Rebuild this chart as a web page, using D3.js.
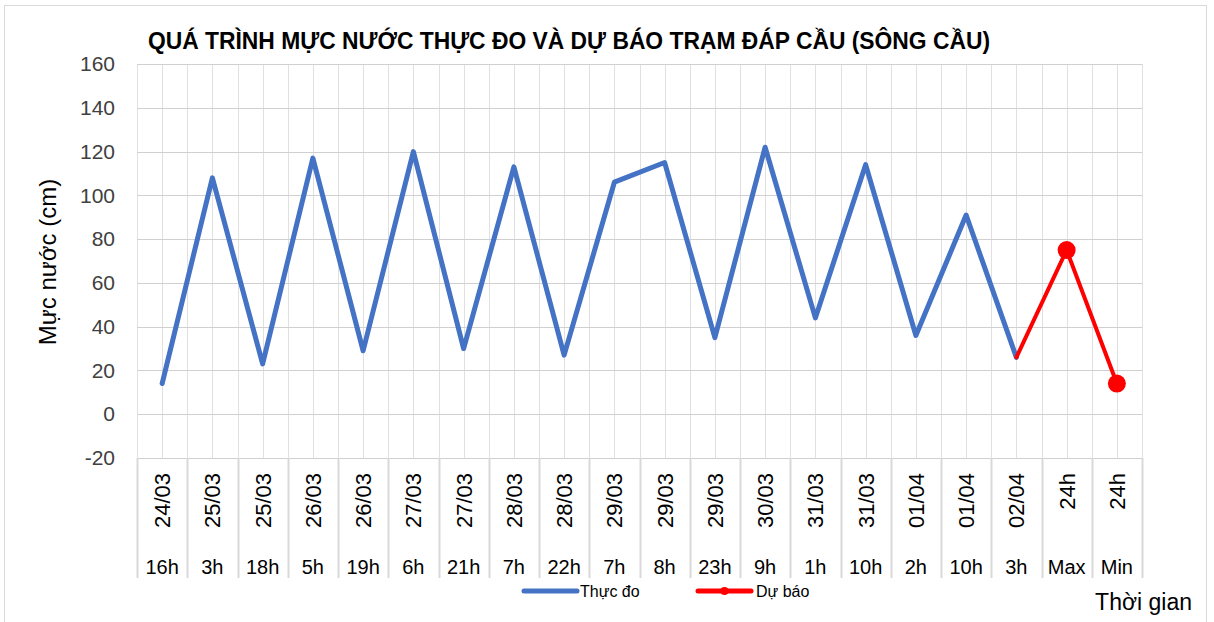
<!DOCTYPE html>
<html>
<head>
<meta charset="utf-8">
<script src="https://cdn.jsdelivr.net/npm/d3@7"></script>
<style>
  html, body { margin: 0; padding: 0; background: #fff; }
  svg { display: block; font-family: "Liberation Sans", Arial, sans-serif; }
</style>
</head>
<body>
<svg id="chart" width="1214" height="622"></svg>
<script>
// category labels (two levels)
const dateLabels = ["24/03","25/03","25/03","26/03","26/03","27/03","27/03","28/03","28/03","29/03",
                    "29/03","29/03","30/03","31/03","31/03","01/04","01/04","02/04","24h","24h"];
const hourLabels = ["16h","3h","18h","5h","19h","6h","21h","7h","22h","7h",
                    "8h","23h","9h","1h","10h","2h","10h","3h","Max","Min"];

// measured water level (cm), first 18 categories
const thucDo = [14, 108, 23, 117, 29, 120, 30, 113, 27, 106, 115, 35, 122, 44, 114, 36, 91, 26];
// forecast: starts at the last measured point, then Max / Min
const duBaoIdx = [17, 18, 19];
const duBao = [26, 75, 14];

const yTicks = [-20, 0, 20, 40, 60, 80, 100, 120, 140, 160];

const svg = d3.select("#chart");

// outer frame
svg.append("rect")
    .attr("x", 4.5).attr("y", 5.5)
    .attr("width", 1202).attr("height", 630)
    .attr("fill", "none").attr("stroke", "#d9d9d9").attr("stroke-width", 1);

const plotLeft = 137, plotRight = 1142, plotTop = 64, plotBottom = 458;

const x = d3.scaleBand()
    .domain(d3.range(dateLabels.length))
    .range([plotLeft, plotRight])
    .paddingInner(0).paddingOuter(0);
const bw = x.bandwidth();
const cx = i => x(i) + bw / 2;

const y = d3.scaleLinear().domain([-20, 160]).range([plotBottom, plotTop]);

// vertical gridlines: band edges and centres
const vPos = [];
d3.range(dateLabels.length).forEach(i => { vPos.push(x(i)); vPos.push(cx(i)); });
vPos.push(plotRight);
svg.append("g").selectAll("line").data(vPos).join("line")
    .attr("x1", d => Math.round(d) + 0.5).attr("x2", d => Math.round(d) + 0.5)
    .attr("y1", plotTop).attr("y2", plotBottom)
    .attr("stroke", "#e0e0e0").attr("stroke-width", 1);

// horizontal gridlines
svg.append("g").selectAll("line").data(yTicks).join("line")
    .attr("x1", plotLeft).attr("x2", plotRight)
    .attr("y1", d => Math.round(y(d)) + 0.5).attr("y2", d => Math.round(y(d)) + 0.5)
    .attr("stroke", "#d0d0d0").attr("stroke-width", 1);

// y axis labels
const yAxis = d3.axisLeft(y).tickValues(yTicks).tickSize(0).tickPadding(0)
    .tickFormat(d => String(d));
const yg = svg.append("g").attr("transform", `translate(${plotLeft - 22},0)`).call(yAxis);
yg.select(".domain").remove();
yg.selectAll("text")
    .attr("font-size", 21).attr("fill", "#404040")
    .attr("font-family", "Liberation Sans, Arial, sans-serif");

// category axis separators
const catBottom = 578;
const sepPos = d3.range(dateLabels.length).map(i => x(i)).concat([plotRight]);
svg.append("g").selectAll("line").data(sepPos).join("line")
    .attr("x1", d => Math.round(d) + 0.5).attr("x2", d => Math.round(d) + 0.5)
    .attr("y1", plotBottom).attr("y2", catBottom)
    .attr("stroke", "#d9d9d9").attr("stroke-width", 2);

// date labels (rotated)
svg.append("g").selectAll("text").data(dateLabels).join("text")
    .attr("transform", (d, i) => `translate(${cx(i)},${plotBottom + 15}) rotate(-90)`)
    .attr("text-anchor", "end")
    .attr("dy", "0.36em")
    .attr("font-size", 22).attr("fill", "#000")
    .text(d => d);

// hour labels
svg.append("g").selectAll("text").data(hourLabels).join("text")
    .attr("x", (d, i) => cx(i)).attr("y", 574)
    .attr("text-anchor", "middle")
    .attr("font-size", 20).attr("fill", "#000")
    .text(d => d);

// measured line
const line = d3.line().x(d => cx(d[0])).y(d => y(d[1]));
svg.append("path")
    .datum(thucDo.map((v, i) => [i, v]))
    .attr("d", line)
    .attr("fill", "none").attr("stroke", "#4472c4")
    .attr("stroke-width", 5).attr("stroke-linejoin", "round").attr("stroke-linecap", "round");

// forecast line + markers
const fc = duBao.map((v, k) => [duBaoIdx[k], v]);
svg.append("path")
    .datum(fc)
    .attr("d", line)
    .attr("fill", "none").attr("stroke", "#ff0000")
    .attr("stroke-width", 4).attr("stroke-linejoin", "round").attr("stroke-linecap", "round");
svg.append("g").selectAll("circle").data(fc.slice(1)).join("circle")
    .attr("cx", d => cx(d[0])).attr("cy", d => y(d[1]))
    .attr("r", 9).attr("fill", "#ff0000");

// title
svg.append("text")
    .attr("x", 569).attr("y", 49)
    .attr("text-anchor", "middle")
    .attr("font-size", 23).attr("font-weight", "bold").attr("fill", "#000")
    .attr("textLength", 842).attr("lengthAdjust", "spacingAndGlyphs")
    .text("QUÁ TRÌNH MỰC NƯỚC THỰC ĐO VÀ DỰ BÁO TRẠM ĐÁP CẦU (SÔNG CẦU)");

// y axis title
svg.append("text")
    .attr("transform", "translate(56,262) rotate(-90)")
    .attr("text-anchor", "middle")
    .attr("font-size", 24).attr("fill", "#000")
    .text("Mực nước (cm)");

// x axis title
svg.append("text")
    .attr("x", 1192).attr("y", 610)
    .attr("text-anchor", "end")
    .attr("font-size", 23).attr("fill", "#000")
    .text("Thời gian");

// legend
const legend = svg.append("g");
legend.append("line")
    .attr("x1", 524).attr("x2", 577).attr("y1", 591).attr("y2", 591)
    .attr("stroke", "#4472c4").attr("stroke-width", 5).attr("stroke-linecap", "round");
legend.append("text")
    .attr("x", 580).attr("y", 597)
    .attr("font-size", 16).attr("fill", "#000")
    .text("Thực đo");
legend.append("line")
    .attr("x1", 698).attr("x2", 751).attr("y1", 591).attr("y2", 591)
    .attr("stroke", "#ff0000").attr("stroke-width", 5).attr("stroke-linecap", "round");
legend.append("circle")
    .attr("cx", 724.5).attr("cy", 591).attr("r", 4).attr("fill", "#ff0000");
legend.append("text")
    .attr("x", 756).attr("y", 597)
    .attr("font-size", 16).attr("fill", "#000")
    .text("Dự báo");
</script>
</body>
</html>
